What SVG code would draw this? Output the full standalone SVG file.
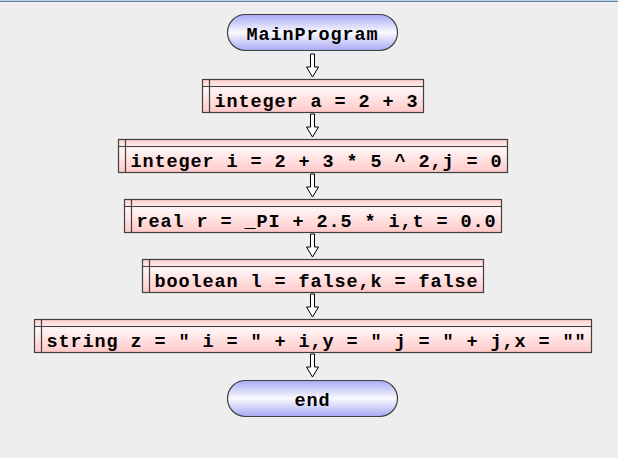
<svg xmlns="http://www.w3.org/2000/svg" width="618" height="458" viewBox="0 0 618 458">
<style>
.t{font-family:"Liberation Mono","Courier New",monospace;font-weight:bold;font-size:18.5px;letter-spacing:0.9px;fill:#000;text-anchor:middle}
.box{fill:url(#pk);stroke:#404040;stroke-width:1.2}
.ln{stroke:#404040;stroke-width:1.2;fill:none}
.ov{fill:url(#bl);stroke:#404040;stroke-width:1.2}
.ar{fill:#fff;stroke:#000;stroke-width:1}
</style>
<defs>
<linearGradient id="pk" x1="0" y1="0" x2="0" y2="1">
<stop offset="0" stop-color="#ffd0d0"/>
<stop offset="0.3" stop-color="#fff4f4"/>
<stop offset="1" stop-color="#ffc8c8"/>
</linearGradient>
<linearGradient id="bl" x1="0" y1="0" x2="0" y2="1">
<stop offset="0" stop-color="#a8a8f4"/>
<stop offset="0.5" stop-color="#fafaff"/>
<stop offset="1" stop-color="#a8a8f4"/>
</linearGradient>
</defs>
<rect x="0" y="0" width="618" height="458" fill="#eeeeee"/>
<rect x="0" y="0" width="618" height="1" fill="#b8cfe5"/>
<rect x="0" y="1" width="618" height="1" fill="#6a7f99"/>
<g id="connectors">
<path class="ar" d="M310.5,54 V67 H306.5 L312.5,77 L318.5,67 H314.5 V54 Z"/>
<path class="ar" d="M310.5,114 V127 H306.5 L312.5,137 L318.5,127 H314.5 V114 Z"/>
<path class="ar" d="M310.5,174 V187 H306.5 L312.5,197 L318.5,187 H314.5 V174 Z"/>
<path class="ar" d="M310.5,234 V247 H306.5 L312.5,257 L318.5,247 H314.5 V234 Z"/>
<path class="ar" d="M310.5,294 V307 H306.5 L312.5,317 L318.5,307 H314.5 V294 Z"/>
<path class="ar" d="M310.5,354 V367 H306.5 L312.5,377 L318.5,367 H314.5 V354 Z"/>
</g>
<g id="start">
<rect class="ov" x="227.5" y="14.5" width="170" height="36" rx="18" ry="18"/>
<text class="t" x="312.5" y="39.5">MainProgram</text>
</g>
<g id="n1">
<rect class="box" x="202.5" y="79.5" width="221" height="33"/>
<path class="ln" d="M202.5,86.5 H423.5 M209.5,79.5 V112.5"/>
<text class="t" x="316.5" y="107">integer a = 2 + 3</text>
</g>
<g id="n2">
<rect class="box" x="118.5" y="139.5" width="389" height="33"/>
<path class="ln" d="M118.5,146.5 H507.5 M125.5,139.5 V172.5"/>
<text class="t" x="316.5" y="167">integer i = 2 + 3 * 5 ^ 2,j = 0</text>
</g>
<g id="n3">
<rect class="box" x="124.5" y="199.5" width="377" height="33"/>
<path class="ln" d="M124.5,206.5 H501.5 M131.5,199.5 V232.5"/>
<text class="t" x="316.5" y="227">real r = _PI + 2.5 * i,t = 0.0</text>
</g>
<g id="n4">
<rect class="box" x="142.5" y="259.5" width="341" height="33"/>
<path class="ln" d="M142.5,266.5 H483.5 M149.5,259.5 V292.5"/>
<text class="t" x="316.5" y="287">boolean l = false,k = false</text>
</g>
<g id="n5">
<rect class="box" x="34.5" y="319.5" width="557" height="33"/>
<path class="ln" d="M34.5,326.5 H591.5 M41.5,319.5 V352.5"/>
<text class="t" x="316.5" y="347">string z = " i = " + i,y = " j = " + j,x = ""</text>
</g>
<g id="end">
<rect class="ov" x="227.5" y="380.5" width="170" height="36" rx="18" ry="18"/>
<text class="t" x="312.5" y="406">end</text>
</g>
</svg>
